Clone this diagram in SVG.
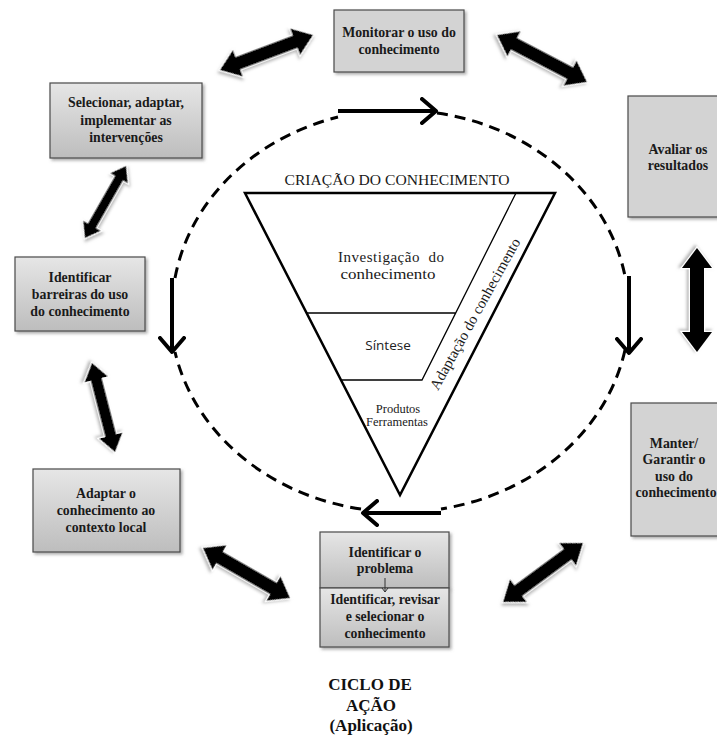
<svg xmlns="http://www.w3.org/2000/svg" width="717" height="742" viewBox="0 0 717 742">
  <defs>
    <linearGradient id="boxGrad" x1="0" y1="0" x2="0" y2="1">
      <stop offset="0" stop-color="#e6e6e6"/>
      <stop offset="1" stop-color="#bdbdbd"/>
    </linearGradient>
    <filter id="boxShadow" x="-10%" y="-10%" width="125%" height="130%">
      <feDropShadow dx="2" dy="2" stdDeviation="1.5" flood-color="#777" flood-opacity="0.6"/>
    </filter>
    <filter id="arrowHalo" x="-20%" y="-40%" width="140%" height="180%">
      <feDropShadow dx="-1.5" dy="2" stdDeviation="1.5" flood-color="#999" flood-opacity="0.7"/>
    </filter>
    <marker id="chevron" viewBox="-16 -14 20 28" markerWidth="20" markerHeight="28" refX="0" refY="0" orient="auto" markerUnits="userSpaceOnUse">
      <path d="M-14 -12 L0 0 L-14 12" fill="none" stroke="#000" stroke-width="4" stroke-linecap="round" stroke-linejoin="round"/>
    </marker>
    <marker id="tinyHead" viewBox="-5 -4 6 8" markerWidth="6" markerHeight="8" refX="0" refY="0" orient="auto" markerUnits="userSpaceOnUse">
      <path d="M-4 -3 L0 0 L-4 3" fill="none" stroke="#333" stroke-width="1"/>
    </marker>
  </defs>
  <style>
    .box { stroke: #4a4a4a; stroke-width: 1.2; filter: url(#boxShadow); }
    .grad { fill: url(#boxGrad); }
    .flat { fill: #d3d3d3; }
    .lbl { font-family: "Liberation Serif", "Times New Roman", serif; font-weight: bold; font-size: 13.8px; fill: #1a1a1a; text-anchor: middle; }
    .tri { font-family: "Liberation Serif", "Times New Roman", serif; fill: #1a1a1a; text-anchor: middle; }
    .dash { fill: none; stroke: #000; stroke-width: 3; stroke-dasharray: 11 7; }
    .flow { fill: none; stroke: #000; stroke-width: 4; marker-end: url(#chevron); }
    .dbl { fill: #000; stroke: #fff; stroke-width: 2.5; paint-order: stroke; filter: url(#arrowHalo); }
    .title { font-family: "Liberation Serif", "Times New Roman", serif; font-weight: bold; font-size: 17px; fill: #111; text-anchor: middle; }
  </style>

  <rect width="717" height="742" fill="#fff"/>

  <!-- dashed action cycle, broken where the solid flow arrows sit -->
  <g id="cycle">
    <path class="dash" d="M437 113 A229 201 0 0 1 625 276"/>
    <path class="dash" d="M625 350 A229 201 0 0 1 441 509"/>
    <path class="dash" d="M361 509 A229 201 0 0 1 175 352"/>
    <path class="dash" d="M175 278 A229 201 0 0 1 338 117"/>
  </g>

  <!-- knowledge creation funnel -->
  <g id="knowledge-creation">
    <text class="tri" x="397" y="185" font-size="15" textLength="225" lengthAdjust="spacingAndGlyphs">CRIAÇÃO DO CONHECIMENTO</text>
    <path d="M245 193 L555 193 L400 495 Z" fill="none" stroke="#000" stroke-width="2.5" stroke-linejoin="miter"/>
    <path d="M516 193 L422 380 L342 380 M307 313 L456 313" fill="none" stroke="#000" stroke-width="1.3"/>
    <text class="tri" x="391" y="262" font-size="15" textLength="106" lengthAdjust="spacing" style="white-space:pre">Investigação  do</text>
    <text class="tri" x="388" y="279" font-size="15" textLength="95" lengthAdjust="spacingAndGlyphs">conhecimento</text>
    <text x="388" y="350" font-family="'Open Sans', 'Liberation Sans', sans-serif" font-size="13.5" fill="#222" text-anchor="middle">Síntese</text>
    <text class="tri" x="398" y="413" font-size="12.5">Produtos</text>
    <text class="tri" x="397" y="426" font-size="12.5">Ferramentas</text>
    <text class="tri" font-size="15" transform="translate(475 314) rotate(-61)" x="0" y="5">Adaptação do conhecimento</text>
  </g>

  <!-- action cycle steps -->
  <g id="monitorar">
    <rect class="box flat" x="334" y="10" width="130" height="62"/>
    <text class="lbl" x="399" y="37">Monitorar o uso do</text>
    <text class="lbl" x="399" y="54">conhecimento</text>
  </g>
  <g id="selecionar">
    <rect class="box grad" x="50" y="83" width="152" height="75"/>
    <text class="lbl" x="126" y="107">Selecionar, adaptar,</text>
    <text class="lbl" x="126" y="125">implementar as</text>
    <text class="lbl" x="126" y="142">intervenções</text>
  </g>
  <g id="avaliar">
    <rect class="box flat" x="628" y="96" width="110" height="121"/>
    <text class="lbl" x="678" y="154">Avaliar os</text>
    <text class="lbl" x="678" y="170">resultados</text>
  </g>
  <g id="barreiras">
    <rect class="box grad" x="15" y="257" width="130" height="74"/>
    <text class="lbl" x="80" y="282">Identificar</text>
    <text class="lbl" x="80" y="299">barreiras do uso</text>
    <text class="lbl" x="80" y="316">do conhecimento</text>
  </g>
  <g id="adaptar">
    <rect class="box grad" x="33" y="469" width="147" height="83"/>
    <text class="lbl" x="106" y="498">Adaptar o</text>
    <text class="lbl" x="106" y="515">conhecimento ao</text>
    <text class="lbl" x="106" y="532">contexto local</text>
  </g>
  <g id="manter">
    <rect class="box flat" x="631" y="403" width="110" height="133"/>
    <text class="lbl" x="674" y="448">Manter/</text>
    <text class="lbl" x="674" y="464">Garantir o</text>
    <text class="lbl" x="674" y="481">uso do</text>
    <text class="lbl" x="676" y="497">conhecimento</text>
  </g>
  <g id="problema">
    <rect class="box grad" x="320" y="532" width="129" height="56"/>
    <rect class="box grad" x="320" y="588" width="129" height="59"/>
    <text class="lbl" x="385" y="557">Identificar o</text>
    <text class="lbl" x="385" y="573">problema</text>
    <line x1="385" y1="578" x2="385" y2="592" stroke="#333" stroke-width="1" marker-end="url(#tinyHead)"/>
    <text class="lbl" x="385" y="604">Identificar, revisar</text>
    <text class="lbl" x="385" y="621">e selecionar o</text>
    <text class="lbl" x="385" y="638">conhecimento</text>
  </g>

  <g id="ciclo-titulo">
    <text class="title" x="370" y="690">CICLO DE</text>
    <text class="title" x="371" y="711">AÇÃO</text>
    <text class="title" x="371" y="731">(Aplicação)</text>
  </g>

  <g id="connectors">
    <!-- solid flow arrows on the cycle -->
    <line class="flow" x1="338" y1="111" x2="436" y2="111"/>
    <line class="flow" x1="629" y1="276" x2="629" y2="353"/>
    <line class="flow" x1="441" y1="513" x2="363" y2="513"/>
    <line class="flow" x1="172" y1="278" x2="172" y2="352"/>

    <!-- two-way links between steps -->
    <path class="dbl" transform="translate(266.5 52.5) rotate(-20.6)" d="M-49.7 0 L-30.7 -14 L-30.7 -6.5 L30.7 -6.5 L30.7 -14 L49.7 0 L30.7 14 L30.7 6.5 L-30.7 6.5 L-30.7 14 Z"/>
    <path class="dbl" transform="translate(542 58.5) rotate(27.6)" d="M-50.7 0 L-31.7 -14 L-31.7 -6.5 L31.7 -6.5 L31.7 -14 L50.7 0 L31.7 14 L31.7 6.5 L-31.7 6.5 L-31.7 14 Z"/>
    <path class="dbl" transform="translate(105.5 202) rotate(-60.3)" d="M-41.5 0 L-27.5 -10 L-27.5 -4.5 L27.5 -4.5 L27.5 -10 L41.5 0 L27.5 10 L27.5 4.5 L-27.5 4.5 L-27.5 10 Z"/>
    <path class="dbl" transform="translate(697 300) rotate(90)" d="M-52 0 L-32 -15 L-32 -7 L32 -7 L32 -15 L52 0 L32 15 L32 7 L-32 7 L-32 15 Z"/>
    <path class="dbl" transform="translate(103.5 407.5) rotate(75.5)" d="M-46 0 L-29 -12 L-29 -5.5 L29 -5.5 L29 -12 L46 0 L29 12 L29 5.5 L-29 5.5 L-29 12 Z"/>
    <path class="dbl" transform="translate(246.5 573) rotate(29.9)" d="M-50.2 0 L-31.2 -14 L-31.2 -6.5 L31.2 -6.5 L31.2 -14 L50.2 0 L31.2 14 L31.2 6.5 L-31.2 6.5 L-31.2 14 Z"/>
    <path class="dbl" transform="translate(543 572.5) rotate(-36.4)" d="M-49.7 0 L-30.7 -14 L-30.7 -6.5 L30.7 -6.5 L30.7 -14 L49.7 0 L30.7 14 L30.7 6.5 L-30.7 6.5 L-30.7 14 Z"/>
  </g>
</svg>
